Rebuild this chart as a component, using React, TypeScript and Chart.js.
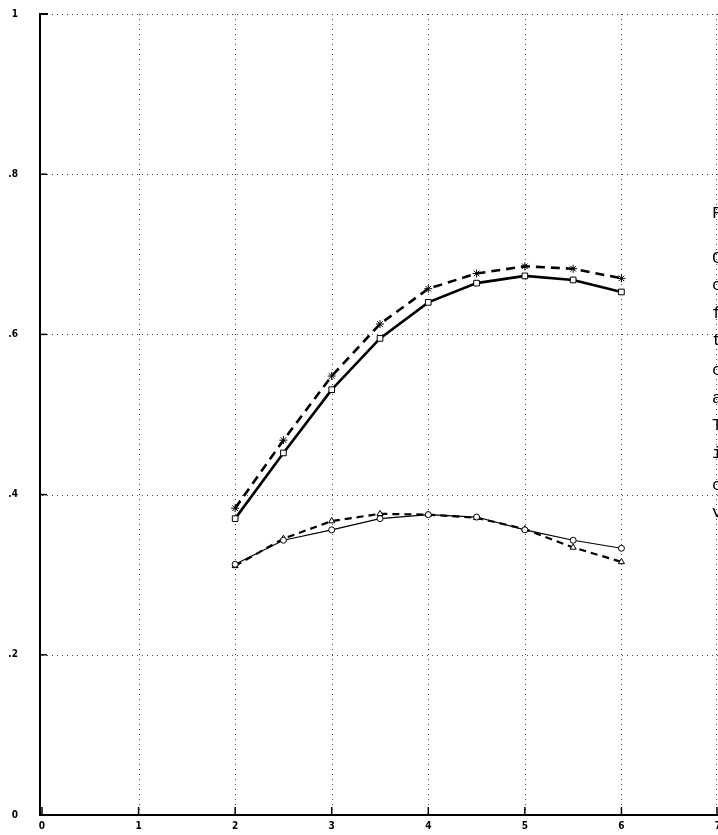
import React, { useEffect, useRef } from "react";
import { Chart, registerables } from "chart.js";

Chart.register(...registerables);

const xValues = [2, 2.5, 3, 3.5, 4, 4.5, 5, 5.5, 6];
const squareSeries = [0.37, 0.452, 0.531, 0.595, 0.64, 0.664, 0.673, 0.668, 0.653];
const starSeries = [0.383, 0.468, 0.548, 0.613, 0.657, 0.676, 0.685, 0.682, 0.67];
const circleSeries = [0.313, 0.343, 0.356, 0.37, 0.375, 0.372, 0.356, 0.343, 0.333];
const triangleSeries = [0.311, 0.345, 0.367, 0.376, 0.375, 0.371, 0.357, 0.334, 0.316];

const xTicks = [0, 1, 2, 3, 4, 5, 6, 7];
const yTicks = [0, 0.2, 0.4, 0.6, 0.8, 1];
const yTickLabels = ["0", ".2", ".4", ".6", ".8", "1"];

const sideLetters = ["F", "C", "c", "f", "t", "c", "a", "T", "i", "c", "v"];
const sideLetterTops = [205, 250, 277, 305, 332, 362, 390, 417, 445, 477, 504];

const toPoints = (ys: number[]) => xValues.map((x, i) => ({ x, y: ys[i] }));

const decorPlugin = {
  id: "decor",
  beforeDatasetsDraw(chart: any) {
    const { ctx, chartArea, scales } = chart;
    const xs = scales.x;
    const ys = scales.y;
    ctx.save();
    ctx.strokeStyle = "#444";
    ctx.lineWidth = 1;
    ctx.setLineDash([1, 4]);
    xTicks.forEach((v) => {
      if (v === 0) return;
      const px = Math.min(Math.round(xs.getPixelForValue(v)) + 0.5, chartArea.right - 1.5);
      ctx.beginPath();
      ctx.moveTo(px, chartArea.top);
      ctx.lineTo(px, chartArea.bottom);
      ctx.stroke();
    });
    yTicks.forEach((v) => {
      if (v === 0) return;
      const py = Math.round(ys.getPixelForValue(v)) + 0.5;
      ctx.beginPath();
      ctx.moveTo(chartArea.left, py);
      ctx.lineTo(chartArea.right, py);
      ctx.stroke();
    });
    ctx.setLineDash([]);
    ctx.strokeStyle = "#000";
    ctx.lineWidth = 2;
    ctx.beginPath();
    ctx.moveTo(chartArea.left + 6, chartArea.top);
    ctx.lineTo(chartArea.left - 2, chartArea.top);
    ctx.lineTo(chartArea.left - 2, chartArea.bottom);
    ctx.lineTo(chartArea.right, chartArea.bottom);
    ctx.stroke();
    ctx.lineWidth = 1.5;
    xTicks.forEach((v) => {
      const px = Math.min(xs.getPixelForValue(v), chartArea.right - 1);
      ctx.beginPath();
      ctx.moveTo(px, chartArea.bottom);
      ctx.lineTo(px, chartArea.bottom - 8);
      ctx.stroke();
    });
    yTicks.forEach((v) => {
      const py = ys.getPixelForValue(v);
      ctx.beginPath();
      ctx.moveTo(chartArea.left - 2, py);
      ctx.lineTo(chartArea.left + 5, py);
      ctx.stroke();
    });
    ctx.restore();
  },
};

export default function App() {
  const canvasRef = useRef<HTMLCanvasElement | null>(null);

  useEffect(() => {
    if (!canvasRef.current) return;
    const tickFont = {
      family: '"DejaVu Sans Condensed", "Liberation Sans Narrow", sans-serif',
      size: 10,
      weight: "bold" as const,
    };
    const chart = new Chart(canvasRef.current, {
      type: "line",
      data: {
        datasets: [
          {
            label: "squares",
            data: toPoints(squareSeries),
            borderColor: "#000",
            borderWidth: 2.6,
            pointStyle: "rect",
            pointRadius: 4,
            pointBackgroundColor: "#fff",
            pointBorderColor: "#000",
            pointBorderWidth: 1,
            tension: 0,
          },
          {
            label: "stars",
            data: toPoints(starSeries),
            borderColor: "#000",
            borderWidth: 2.6,
            borderDash: [9, 6],
            pointStyle: "star",
            pointRadius: 4,
            pointBackgroundColor: "#fff",
            pointBorderColor: "#000",
            pointBorderWidth: 1,
            tension: 0,
          },
          {
            label: "circles",
            data: toPoints(circleSeries),
            borderColor: "#000",
            borderWidth: 1.2,
            pointStyle: "circle",
            pointRadius: 3,
            pointBackgroundColor: "#fff",
            pointBorderColor: "#000",
            pointBorderWidth: 1,
            tension: 0,
          },
          {
            label: "triangles",
            data: toPoints(triangleSeries),
            borderColor: "#000",
            borderWidth: 2.2,
            borderDash: [7, 5],
            pointStyle: "triangle",
            pointRadius: 3.5,
            pointBackgroundColor: "#fff",
            pointBorderColor: "#000",
            pointBorderWidth: 1,
            tension: 0,
          },
        ],
      },
      options: {
        animation: false,
        responsive: false,
        layout: { autoPadding: false, padding: { left: 0, right: 0, top: 14, bottom: 0 } },
        plugins: { legend: { display: false }, tooltip: { enabled: false } },
        scales: {
          x: {
            type: "linear",
            min: 0,
            max: 7,
            grid: { display: false, drawTicks: false },
            border: { display: false },
            afterBuildTicks: (s: any) => {
              s.ticks = xTicks.map((v) => ({ value: v }));
            },
            afterFit: (s: any) => {
              s.height = 20;
              s.paddingLeft = 0;
              s.paddingRight = 0;
            },
            ticks: {
              color: "#000",
              font: tickFont,
              padding: 5,
              maxRotation: 0,
              autoSkip: false,
              callback: (v: any) => String(v),
            },
          },
          y: {
            type: "linear",
            min: 0,
            max: 1,
            grid: { display: false, drawTicks: false },
            border: { display: false },
            afterBuildTicks: (s: any) => {
              s.ticks = yTicks.map((v) => ({ value: v }));
            },
            afterFit: (s: any) => {
              s.width = 42;
              s.paddingTop = 0;
              s.paddingBottom = 0;
            },
            ticks: {
              color: "#000",
              font: tickFont,
              padding: 24,
              autoSkip: false,
              callback: (v: any) => {
                const i = yTicks.indexOf(Number(v));
                return i >= 0 ? yTickLabels[i] : "";
              },
            },
          },
        },
      },
      plugins: [decorPlugin],
    });
    return () => chart.destroy();
  }, []);

  return (
    <div
      style={{
        position: "absolute",
        left: 0,
        top: 0,
        width: 718,
        height: 835,
        overflow: "hidden",
        background: "#fff",
      }}
    >
      <canvas ref={canvasRef} width={718} height={835} style={{ display: "block" }} />
      {sideLetters.map((ch, i) => (
        <div
          key={i}
          style={{
            position: "absolute",
            left: 712,
            top: sideLetterTops[i],
            fontFamily: '"Liberation Mono", "DejaVu Sans Mono", monospace',
            fontSize: 17,
            lineHeight: "17px",
            color: "#000",
          }}
        >
          {ch}
        </div>
      ))}
    </div>
  );
}
